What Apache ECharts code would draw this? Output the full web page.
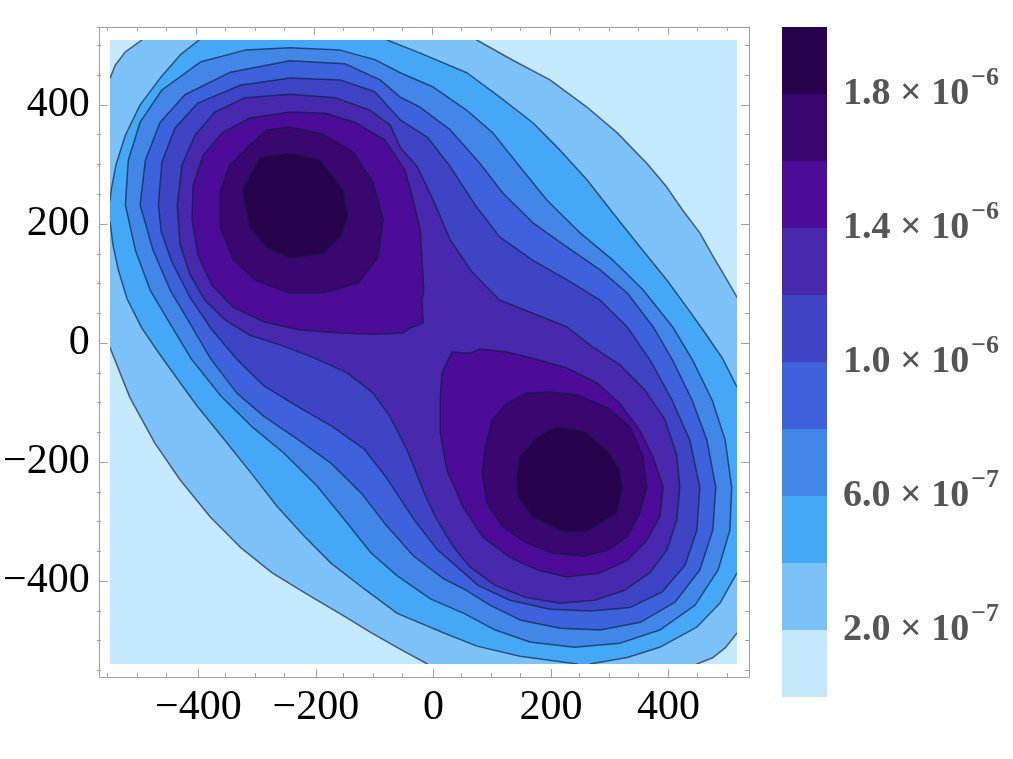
<!DOCTYPE html>
<html><head><meta charset="utf-8">
<script src="https://cdn.jsdelivr.net/npm/echarts@6/dist/echarts.min.js"></script>
<style>html,body{margin:0;padding:0;background:#fff}#c{width:1013px;height:759px}</style>
</head><body><div id="c"></div>
<script>
// ---------------- data ----------------
const bandLevels = [0, 2e-7, 4e-7, 6e-7, 8e-7, 1.0e-6, 1.2e-6, 1.4e-6, 1.6e-6, 1.8e-6, 2.0e-6];
const bandColors = ['#c4e8fc', '#7cc2f8', '#45a8f6', '#4287e8', '#3d62dc', '#3f44c5', '#4828ad', '#4c0c97', '#3a0670', '#28024c'];
const axisTickValues = [-400, -200, 0, 200, 400];
const axisMinorTickValues = [-550, -500, -450, -350, -300, -250, -150, -100, -50, 50, 100, 150, 250, 300, 350, 450, 500];
const cbTickValues = [2e-7, 6e-7, 1.0e-6, 1.4e-6, 1.8e-6];
const cbTickMantissa = ['2.0', '6.0', '1.0', '1.4', '1.8'];
const cbTickExponent = ['\u22127', '\u22127', '\u22126', '\u22126', '\u22126'];

// contour regions (x, y in data units), points beyond the plotted square are clipped
const contour02 = [[-492,600],[76,600],[76,509],[137,475],[200,442],[263,396],[314,353],[364,302],[398,262],[425,223],[454,185],[475,148],[497,111],[517,77],[600,77],[600,-487],[517,-487],[497,-512],[475,-529],[449,-539],[449,-600],[-8,-600],[-8,-539],[-58,-512],[-102,-487],[-147,-460],[-215,-420],[-271,-386],[-325,-343],[-376,-292],[-427,-230],[-470,-168],[-512,-92],[-546,-8],[-600,-8],[-600,445],[-546,445],[-537,467],[-520,489],[-492,509]];
const contour04 = [[-395,600],[-76,600],[-76,509],[-20,487],[59,454],[115,413],[171,370],[217,324],[263,274],[307,218],[353,161],[398,106],[432,60],[463,17],[492,-25],[517,-74],[600,-74],[600,-386],[517,-386],[488,-437],[449,-477],[386,-511],[331,-528],[268,-539],[268,-600],[246,-600],[246,-539],[208,-534],[149,-526],[76,-509],[20,-487],[-59,-454],[-115,-413],[-171,-370],[-217,-324],[-263,-274],[-307,-218],[-353,-161],[-398,-106],[-432,-60],[-463,-17],[-492,25],[-517,74],[-532,123],[-541,165],[-546,203],[-600,203],[-600,240],[-546,240],[-544,257],[-536,299],[-520,349],[-495,400],[-461,445],[-427,484],[-395,509]];
const contour06 = [[-520,232],[-515,307],[-495,371],[-458,425],[-393,472],[-317,492],[-241,496],[-156,492],[-97,476],[-54,454],[2,430],[59,391],[103,353],[149,296],[195,240],[251,185],[307,139],[358,89],[408,27],[442,-29],[475,-96],[497,-163],[508,-242],[505,-314],[485,-381],[446,-440],[386,-482],[319,-504],[241,-511],[166,-502],[107,-482],[54,-454],[-2,-430],[-59,-391],[-103,-353],[-149,-296],[-195,-240],[-251,-185],[-307,-139],[-358,-89],[-408,-27],[-442,29],[-478,89],[-503,156]];
const contour08 = [[-495,232],[-486,307],[-461,371],[-419,417],[-342,455],[-241,474],[-147,469],[-88,442],[-54,413],[-20,396],[31,358],[81,302],[120,252],[171,202],[229,161],[285,123],[331,84],[375,27],[408,-29],[441,-96],[466,-163],[481,-242],[476,-314],[454,-381],[412,-435],[353,-469],[285,-482],[217,-479],[149,-465],[98,-440],[54,-413],[20,-396],[-31,-358],[-81,-302],[-120,-252],[-171,-202],[-229,-161],[-285,-123],[-331,-84],[-375,-27],[-408,29],[-444,89],[-473,156]];
const contour10 = [[-464,232],[-458,304],[-436,361],[-397,403],[-325,433],[-241,445],[-156,442],[-97,422],[-54,375],[-8,346],[31,296],[76,228],[115,178],[171,139],[229,106],[285,72],[331,27],[370,-29],[407,-96],[437,-163],[454,-242],[449,-314],[429,-373],[390,-418],[336,-444],[268,-450],[200,-447],[132,-432],[78,-407],[39,-373],[8,-346],[-31,-296],[-76,-228],[-115,-178],[-171,-139],[-229,-106],[-285,-72],[-331,-27],[-373,22],[-410,76],[-441,136],[-459,186]];
const contour12 = [[-432,232],[-424,299],[-402,349],[-368,388],[-317,412],[-241,418],[-164,412],[-105,391],[-71,366],[-54,329],[-25,296],[2,240],[31,173],[69,118],[115,72],[171,50],[229,27],[273,-7],[319,-37],[361,-79],[395,-129],[415,-188],[420,-242],[415,-297],[398,-348],[370,-385],[327,-415],[276,-432],[217,-437],[158,-427],[107,-407],[64,-376],[34,-339],[8,-296],[-8,-264],[-20,-235],[-42,-180],[-71,-124],[-100,-84],[-144,-50],[-202,-24],[-258,-3],[-309,13],[-351,39],[-385,72],[-410,114],[-427,165]];
const contour14a = [[-241,388],[-181,386],[-131,371],[-80,341],[-46,291],[-32,240],[-20,190],[-17,139],[-14,89],[-17,72],[-15,34],[-37,25],[-49,17],[-97,15],[-156,17],[-224,22],[-283,35],[-337,60],[-373,97],[-397,148],[-407,207],[-405,265],[-388,316],[-356,353],[-309,378]];
const contour14b = [[34,-15],[64,-17],[81,-10],[127,-15],[183,-29],[229,-42],[280,-67],[318,-101],[352,-146],[375,-192],[392,-242],[386,-292],[364,-331],[331,-365],[285,-386],[229,-393],[178,-381],[132,-360],[86,-326],[53,-276],[25,-213],[14,-151],[14,-91],[17,-49],[27,-29]];
const contour16a = [[-241,363],[-185,351],[-134,321],[-100,270],[-83,207],[-92,143],[-125,101],[-185,84],[-241,84],[-297,104],[-337,140],[-359,195],[-359,254],[-343,299],[-309,333],[-280,358]];
const contour16b = [[161,-84],[203,-82],[246,-87],[297,-108],[336,-141],[358,-192],[364,-242],[352,-286],[331,-326],[297,-348],[256,-358],[205,-353],[161,-336],[120,-309],[93,-269],[85,-218],[90,-175],[102,-129],[127,-101]];
const contour18a = [[-292,311],[-241,319],[-190,307],[-151,257],[-143,212],[-156,178],[-185,151],[-241,143],[-280,161],[-309,195],[-321,257]];
const contour18b = [[212,-141],[259,-149],[296,-180],[318,-213],[322,-242],[313,-285],[262,-316],[222,-316],[171,-292],[146,-259],[144,-225],[149,-191],[178,-158]];

const contourRegions = [contour02, contour04, contour06, contour08, contour10, contour12, contour14a, contour14b, contour16a, contour16b, contour18a, contour18b];
const contourBand = [1, 2, 3, 4, 5, 6, 7, 7, 8, 8, 9, 9];

// ---------------- chart ----------------
const AX = '#a0a0a0';
const LINE = 'rgba(10,30,60,0.66)';
const fmt = v => (v < 0 ? '\u2212' + (-v) : String(v));
const FR = {left: 97, top: 27, width: 652, height: 650};
const XR = {min: -568, max: 537}, YR = {min: -561, max: 531};

function frameAxis(grid, pos, range, ticks, len, line, labels) {
  return {gridIndex: grid, type: 'value', position: pos, min: range.min, max: range.max,
    axisLine: {show: line, onZero: false, lineStyle: {color: AX, width: 1}},
    axisTick: {show: true, inside: true, length: len, customValues: ticks, lineStyle: {color: AX, width: 1}},
    axisLabel: labels ? {show: true, customValues: ticks, formatter: fmt, fontFamily: 'Liberation Serif', fontSize: 42, color: '#000', margin: 10} : {show: false},
    splitLine: {show: false}, minorTick: {show: false}};
}

const option = {
  animation: false,
  backgroundColor: '#fff',
  grid: [
    {left: 110, top: 40, width: 627, height: 624, show: true, backgroundColor: bandColors[0], borderWidth: 0},
    Object.assign({}, FR), Object.assign({}, FR), Object.assign({}, FR), Object.assign({}, FR),
    {left: 782, top: 27, width: 45, height: 670}
  ],
  xAxis: [
    {gridIndex: 0, type: 'value', min: -546, max: 517, show: false},
    frameAxis(1, 'bottom', XR, axisTickValues, 8, true, true),
    frameAxis(2, 'top', XR, axisTickValues, 8, true, false),
    frameAxis(3, 'bottom', XR, axisMinorTickValues, 4, false, false),
    frameAxis(4, 'top', XR, axisMinorTickValues, 4, false, false),
    {gridIndex: 5, type: 'value', min: 0, max: 1, show: false}
  ],
  yAxis: [
    {gridIndex: 0, type: 'value', min: -539, max: 509, show: false},
    frameAxis(1, 'left', YR, axisTickValues, 8, true, true),
    frameAxis(2, 'right', YR, axisTickValues, 8, true, false),
    frameAxis(3, 'left', YR, axisMinorTickValues, 4, false, false),
    frameAxis(4, 'right', YR, axisMinorTickValues, 4, false, false),
    {gridIndex: 5, type: 'value', position: 'right', min: bandLevels[0], max: bandLevels[bandLevels.length - 1],
      axisLine: {show: false},
      axisTick: {show: true, inside: false, length: 7, customValues: cbTickValues, lineStyle: {color: AX}},
      axisLabel: {show: true, customValues: cbTickValues, margin: 16,
        formatter: v => {
          let i = 0, best = Infinity;
          cbTickValues.forEach((t, k) => { const d = Math.abs(t - v); if (d < best) { best = d; i = k; } });
          return '{m|' + cbTickMantissa[i] + ' \u00d7 10}{e|' + cbTickExponent[i] + '}';
        },
        rich: {
          m: {fontFamily: 'Liberation Serif', fontWeight: 'bold', fontSize: 38, color: '#555', lineHeight: 58},
          e: {fontFamily: 'Liberation Serif', fontWeight: 'bold', fontSize: 26, color: '#555', verticalAlign: 'top', lineHeight: 26, padding: [0, 0, 0, 2]}
        }},
      splitLine: {show: false}}
  ],
  series: [
    {
      type: 'custom', xAxisIndex: 0, yAxisIndex: 0, clip: true, silent: true,
      data: contourRegions.map((r, i) => [i]),
      renderItem: (params, api) => {
        const i = api.value(0);
        const pts = contourRegions[i].map(p => api.coord(p));
        return {type: 'polygon', shape: {points: pts},
          style: {fill: bandColors[contourBand[i]], stroke: LINE, lineWidth: 1.5, lineJoin: 'round'}};
      }
    },
    {
      type: 'custom', xAxisIndex: 5, yAxisIndex: 5, silent: true,
      data: bandColors.map((c, i) => [bandLevels[i], bandLevels[i + 1]]),
      renderItem: (params, api) => {
        const lo = api.value(0), hi = api.value(1);
        const a = api.coord([0, hi]), b = api.coord([1, lo]);
        return {type: 'rect', shape: {x: a[0], y: a[1], width: b[0] - a[0], height: b[1] - a[1]},
          style: {fill: bandColors[params.dataIndex], stroke: null}};
      }
    }
  ]
};
const chart = echarts.init(document.getElementById('c'));
chart.setOption(option);
</script></body></html>
